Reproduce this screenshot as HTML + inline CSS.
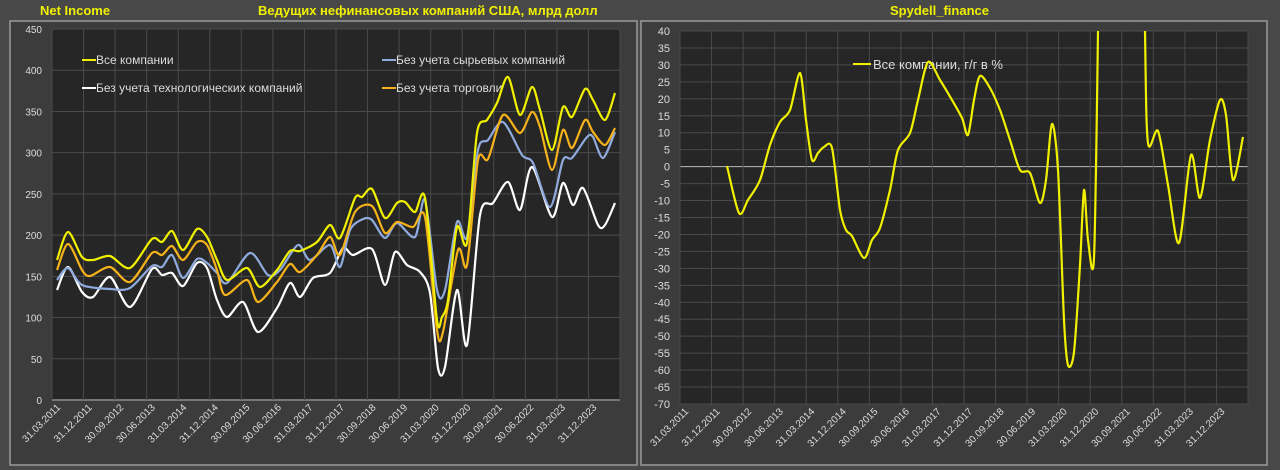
<!DOCTYPE html>
<html><head><meta charset="utf-8"><style>
html,body{margin:0;padding:0;background:#484848;width:1280px;height:470px;overflow:hidden}
svg{display:block}
text{font-family:"Liberation Sans",sans-serif}
</style></head><body>
<svg id="s" width="1280" height="470" xmlns="http://www.w3.org/2000/svg">
<rect x="0" y="0" width="1280" height="470" fill="#484848"/>
<rect x="10" y="21" width="627" height="444" fill="#3c3c3c" stroke="#9a9a9a" stroke-width="1.5"/>
<rect x="641" y="21" width="626" height="444" fill="#3c3c3c" stroke="#9a9a9a" stroke-width="1.5"/>
<rect x="52" y="29" width="568" height="371" fill="#262626"/>
<rect x="680" y="31" width="568" height="373" fill="#262626"/>
<g id="grid"></g>
<text x="40" y="15" fill="#f0f000" font-size="13" font-weight="bold">Net Income</text>
<text x="258" y="15" fill="#f0f000" font-size="13" font-weight="bold">Ведущих нефинансовых компаний США, млрд долл</text>
<text x="890" y="15" fill="#f0f000" font-size="13" font-weight="bold">Spydell_finance</text>
<g font-size="12" fill="#dcdcdc">
<line x1="82" y1="60" x2="96" y2="60" stroke="#f0f000" stroke-width="2"/><text x="96" y="64">Все компании</text>
<line x1="382" y1="60" x2="396" y2="60" stroke="#8faadc" stroke-width="2"/><text x="396" y="64">Без учета сырьевых компаний</text>
<line x1="82" y1="88" x2="96" y2="88" stroke="#ffffff" stroke-width="2"/><text x="96" y="92">Без учета технологических компаний</text>
<line x1="382" y1="88" x2="396" y2="88" stroke="#f5b21a" stroke-width="2"/><text x="396" y="92">Без учета торговли</text>
<line x1="853" y1="64" x2="871" y2="64" stroke="#f0f000" stroke-width="2"/><text x="873" y="69" font-size="13">Все компании, г/г в %</text>
</g>
<defs><clipPath id="cr"><rect x="680" y="31" width="568" height="373"/></clipPath></defs>
<g id="lines" fill="none" stroke-width="2.2" stroke-linejoin="round"></g>
<g id="lbl" font-size="10" fill="#dcdcdc"></g>
</svg>
<script>
var NS="http://www.w3.org/2000/svg";
function el(p,t,a,txt){var e=document.createElementNS(NS,t);for(var k in a)e.setAttribute(k,a[k]);if(txt!=null)e.textContent=txt;p.appendChild(e);return e;}
var g=document.getElementById('grid'),L=document.getElementById('lines'),lb=document.getElementById('lbl');
var dates=["31.03.2011","31.12.2011","30.09.2012","30.06.2013","31.03.2014","31.12.2014","30.09.2015","30.06.2016","31.03.2017","31.12.2017","30.09.2018","30.06.2019","31.03.2020","31.12.2020","30.09.2021","30.06.2022","31.03.2023","31.12.2023"];
for(var i=0;i<=9;i++){var y=400-i*371/9;el(g,'line',{x1:52,x2:620,y1:y,y2:y,stroke:i==0?'#777':'#4a4a4a','stroke-width':i==0?2:1});
el(lb,'text',{x:42,y:y+4,'text-anchor':'end'},String(i*50));}
for(var i=0;i<=18;i++){var x=52+i*568/18;el(g,'line',{x1:x,x2:x,y1:29,y2:400,stroke:'#4a4a4a'});}
for(var i=0;i<=22;i++){var v=40-i*5;var y=31+i*373/22;el(g,'line',{x1:680,x2:1248,y1:y,y2:y,stroke:v==0?'#bbb':'#4a4a4a'});
el(lb,'text',{x:670,y:y+4,'text-anchor':'end','font-size':11},String(v));}
for(var i=0;i<=18;i++){var x=680+i*568/18;el(g,'line',{x1:x,x2:x,y1:31,y2:404,stroke:'#4a4a4a'});}
dates.forEach(function(d,i){
 var x=57+i*31.55;el(lb,'text',{x:x+4,y:408,'text-anchor':'end',transform:'rotate(-45 '+(x+4)+' 408)'},d);
 var x2=685+i*31.55;el(lb,'text',{x:x2+4,y:412,'text-anchor':'end',transform:'rotate(-45 '+(x2+4)+' 412)'},d);
});
function path(p){var T=7;var d='M'+p[0][0]+','+p[0][1];
for(var i=0;i<p.length-1;i++){var p0=p[i-1]||p[i],p1=p[i],p2=p[i+1],p3=p[i+2]||p2;
d+=' C'+(p1[0]+(p2[0]-p0[0])/T).toFixed(1)+','+(p1[1]+(p2[1]-p0[1])/T).toFixed(1)+' '+(p2[0]-(p3[0]-p1[0])/T).toFixed(1)+','+(p2[1]-(p3[1]-p1[1])/T).toFixed(1)+' '+p2[0]+','+p2[1];}
return d;}
var white=[[57,290],[68,267],[82,292],[93,297],[110,277],[130,307],[152,269],[162,275],[172,273],[183,286],[197,263],[207,268],[217,300],[227,317],[243,302],[258,332],[277,308],[290,283],[300,297],[313,278],[330,273],[343,248],[353,255],[372,249],[385,285],[395,252],[407,265],[420,272],[430,293],[438,368],[445,367],[457,290],[467,345],[480,215],[493,203],[508,182],[520,210],[532,167],[552,217],[563,183],[573,205],[583,188],[598,225],[605,225],[615,203]];
var blue=[[57,280],[68,268],[82,285],[110,289],[130,288],[152,266],[162,267],[172,255],[183,278],[197,259],[207,263],[217,273],[227,283],[250,253],[268,275],[280,270],[298,245],[310,260],[330,245],[340,267],[350,230],[363,219],[372,220],[385,238],[397,223],[415,237],[425,200],[437,290],[445,290],[457,222],[467,237],[478,150],[488,140],[503,122],[522,155],[533,163],[550,207],[563,160],[572,158],[587,137],[593,137],[603,158],[615,132]];
var orange=[[57,270],[68,244],[82,270],[90,276],[110,267],[130,282],[152,253],[162,255],[172,246],[183,260],[197,242],[207,245],[217,270],[225,295],[247,280],[258,302],[277,282],[290,264],[300,272],[317,255],[330,237],[340,255],[355,212],[372,206],[385,233],[397,222],[413,227],[425,217],[437,330],[443,332],[458,250],[467,265],[478,160],[488,159],[503,115],[520,133],[532,112],[540,127],[552,170],[563,130],[572,148],[585,120],[593,132],[605,145],[615,128]];
var yellow=[[57,260],[68,232],[82,257],[93,260],[110,256],[130,268],[152,239],[162,242],[172,231],[183,250],[197,229],[207,237],[217,260],[227,280],[247,268],[260,287],[277,270],[290,251],[300,251],[317,242],[330,225],[340,238],[355,198],[362,197],[372,189],[385,218],[397,203],[405,202],[415,212],[425,198],[437,320],[442,317],[448,300],[457,227],[467,243],[477,133],[487,120],[497,103],[508,77],[520,115],[532,87],[540,110],[552,150],[563,107],[572,117],[585,89],[593,100],[605,120],[615,93]];
var r=[[727,166],[739,213],[748,200],[760,180],[770,145],[780,122],[790,110],[800,73],[806,120],[812,160],[818,153],[824,147],[832,148],[840,210],[846,230],[852,236],[864,258],[872,240],[880,228],[890,190],[898,150],[910,133],[918,100],[928,62],[940,80],[952,100],[962,118],[968,135],[974,100],[980,76],[990,88],[1000,110],[1010,140],[1020,170],[1030,173],[1040,203],[1046,180],[1052,124],[1058,170],[1064,320],[1068,365],[1074,352],[1080,265],[1084,190],[1088,240],[1094,258],[1098,31],[1102,-300],[1141,-300],[1145,31],[1148,143],[1158,131],[1168,185],[1179,243],[1191,155],[1200,198],[1210,140],[1220,100],[1226,115],[1233,180],[1243,137]];
el(L,'path',{d:path(white),stroke:'#ffffff'});
el(L,'path',{d:path(blue),stroke:'#8faadc'});
el(L,'path',{d:path(orange),stroke:'#f5b21a'});
el(L,'path',{d:path(yellow),stroke:'#f0f000'});
el(L,'path',{d:path(r),stroke:'#f0f000','clip-path':'url(#cr)'});
</script>
</body></html>
